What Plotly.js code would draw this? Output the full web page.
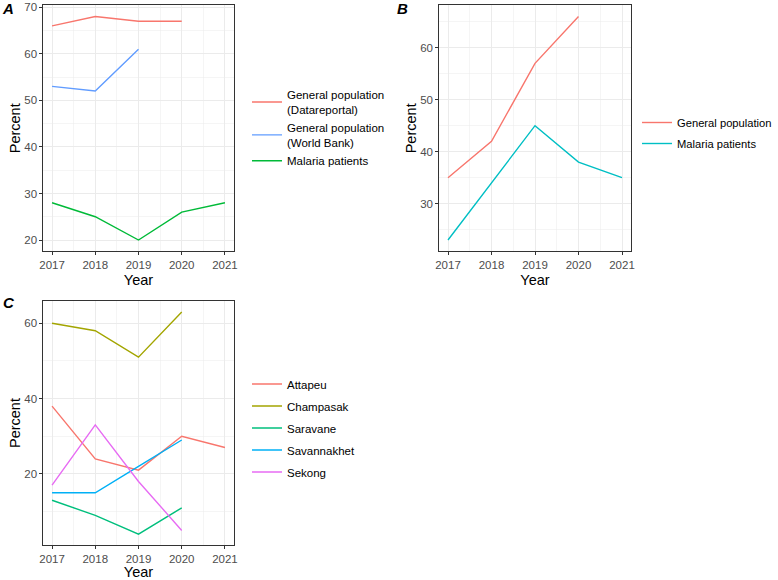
<!DOCTYPE html>
<html>
<head>
<meta charset="utf-8">
<script src="https://cdn.plot.ly/plotly-3.0.1.min.js"></script>
<style>html,body{margin:0;padding:0;background:#fff;}#chart{width:778px;height:580px;}</style>
</head>
<body>
<div id="chart"></div>
<script>
// ---- Data ----
const years = [2017, 2018, 2019, 2020, 2021];

// Panel A
const namesA = ["General population<br>(Datareportal)", "General population<br>(World Bank)", "Malaria patients"];
const genPopDatareportal = [66, 68, 67, 67];
const genPopWorldBank = [53, 52, 61];
const malariaA = [28, 25, 20, 26, 28];

// Panel B
const namesB = ["General population", "Malaria patients"];
const genPopB = [35, 42, 57, 66];
const malariaB = [23, 34, 45, 38, 35];

// Panel C
const provinces = ["Attapeu", "Champasak", "Saravane", "Savannakhet", "Sekong"];
const attapeu = [38, 24, 21, 30, 27];
const champasak = [60, 58, 51, 63];
const saravane = [13, 9, 4, 11];
const savannakhet = [15, 15, 22, 29];
const sekong = [17, 33, 18, 5];

const panelLabels = ["A", "B", "C"];

// ---- Styles ----
const FONT = "Liberation Sans, Arial, Helvetica, sans-serif";
const colA = ["#F8766D", "#619CFF", "#00BA38"];
const colB = ["#F8766D", "#00BFC4"];
const colC = ["#F8766D", "#A3A500", "#00BF7D", "#00B0F6", "#E76BF3"];
const LW = 1.4;

function expandRange(arrs) {
  const all = [].concat(...arrs);
  const mn = Math.min(...all), mx = Math.max(...all);
  const pad = (mx - mn) * 0.05;
  return [mn - pad, mx + pad];
}

function line(x, y, name, color, xa, ya, legend, group) {
  return {
    type: "scatter", mode: "lines", x: x, y: y, name: name,
    line: {color: color, width: LW},
    xaxis: xa, yaxis: ya, legend: legend, legendgroup: group,
    hoverinfo: "skip"
  };
}

const traces = [
  line(years.slice(0, genPopDatareportal.length), genPopDatareportal, namesA[0], colA[0], "x", "y", "legend"),
  line(years.slice(0, genPopWorldBank.length), genPopWorldBank, namesA[1], colA[1], "x", "y", "legend"),
  line(years.slice(0, malariaA.length), malariaA, namesA[2], colA[2], "x", "y", "legend"),

  line(years.slice(0, genPopB.length), genPopB, namesB[0], colB[0], "x2", "y2", "legend2", "b0"),
  line(years.slice(0, malariaB.length), malariaB, namesB[1], colB[1], "x2", "y2", "legend2", "b1"),
];
const seriesC = [attapeu, champasak, saravane, savannakhet, sekong];
seriesC.forEach((s, i) => {
  traces.push(line(years.slice(0, s.length), s, provinces[i], colC[i], "x3", "y3", "legend3", "c" + i));
});

const span = years[years.length - 1] - years[0];
const xr = [years[0] - span * 0.05, years[years.length - 1] + span * 0.05];

function xaxis(domain, anchor, standoff) {
  return {
    domain: domain, anchor: anchor, range: xr, autorange: false,
    tickmode: "linear", tick0: 2017, dtick: 1,
    showgrid: true, gridcolor: "#EBEBEB", gridwidth: 1,
    minor: {dtick: 0.5, tick0: 2016.5, showgrid: true, gridcolor: "#EBEBEB", gridwidth: 0.5, ticks: ""},
    showline: true, mirror: true, linecolor: "#333333", linewidth: 1,
    ticks: "outside", ticklen: 3, tickcolor: "#333333", tickwidth: 1,
    tickfont: {family: FONT, size: 11.5, color: "#4D4D4D"},
    zeroline: false, automargin: false,
    title: {text: "Year", font: {family: FONT, size: 14.5, color: "#000000"}, standoff: standoff}
  };
}
function yaxis(domain, anchor, range, dtick) {
  return {
    domain: domain, anchor: anchor, range: range, autorange: false,
    tickmode: "linear", tick0: 0, dtick: dtick,
    showgrid: true, gridcolor: "#EBEBEB", gridwidth: 1,
    minor: {dtick: dtick / 2, tick0: 0, showgrid: true, gridcolor: "#EBEBEB", gridwidth: 0.5, ticks: ""},
    showline: true, mirror: true, linecolor: "#333333", linewidth: 1,
    ticks: "outside", ticklen: 3, tickcolor: "#333333", tickwidth: 1,
    tickfont: {family: FONT, size: 11.5, color: "#4D4D4D"},
    zeroline: false, automargin: false,
    title: {text: "Percent", font: {family: FONT, size: 14.5, color: "#000000"}, standoff: 0}
  };
}

const W = 778, H = 580;
const px = v => v / W, py = v => 1 - v / H;

const legendFont = {family: FONT, size: 11.5, color: "#000000"};
const layout = {
  width: W, height: H,
  margin: {l: 0, r: 0, t: 0, b: 0, pad: 0, autoexpand: false},
  paper_bgcolor: "#FFFFFF", plot_bgcolor: "#FFFFFF",
  showlegend: true,
  xaxis: xaxis([px(43.4), px(233.6)], "y", 4),
  yaxis: yaxis([py(251.2), py(5.4)], "x", expandRange([genPopDatareportal, genPopWorldBank, malariaA]), 10),
  xaxis2: xaxis([px(439.3), px(630.7)], "y2", 4),
  yaxis2: yaxis([py(251.2), py(5.4)], "x2", expandRange([genPopB, malariaB]), 10),
  xaxis3: xaxis([px(43.4), px(233.6)], "y3", 3),
  yaxis3: yaxis([py(545.3), py(300.8)], "x3", expandRange(seriesC), 20),
  legend: {x: px(247), y: py(128), xanchor: "left", yanchor: "middle", font: legendFont, itemwidth: 30, bgcolor: "rgba(0,0,0,0)", tracegroupgap: 0},
  legend2: {x: px(637), y: py(133), xanchor: "left", yanchor: "middle", font: {family: FONT, size: 11.2, color: "#000000"}, itemwidth: 30, bgcolor: "rgba(0,0,0,0)", tracegroupgap: 2},
  legend3: {x: px(247), y: py(428), xanchor: "left", yanchor: "middle", font: legendFont, itemwidth: 30, bgcolor: "rgba(0,0,0,0)", tracegroupgap: 3},
  annotations: [
    {text: "<b><i>" + panelLabels[0] + "</i></b>", xref: "paper", yref: "paper", x: px(0), y: py(8.5), xanchor: "left", yanchor: "middle", showarrow: false, font: {family: FONT, size: 15, color: "#000"}},
    {text: "<b><i>" + panelLabels[1] + "</i></b>", xref: "paper", yref: "paper", x: px(395), y: py(8.5), xanchor: "left", yanchor: "middle", showarrow: false, font: {family: FONT, size: 15, color: "#000"}},
    {text: "<b><i>" + panelLabels[2] + "</i></b>", xref: "paper", yref: "paper", x: px(1), y: py(302), xanchor: "left", yanchor: "middle", showarrow: false, font: {family: FONT, size: 15, color: "#000"}}
  ]
};

Plotly.newPlot("chart", traces, layout, {staticPlot: true, displayModeBar: false});
</script>
</body>
</html>
